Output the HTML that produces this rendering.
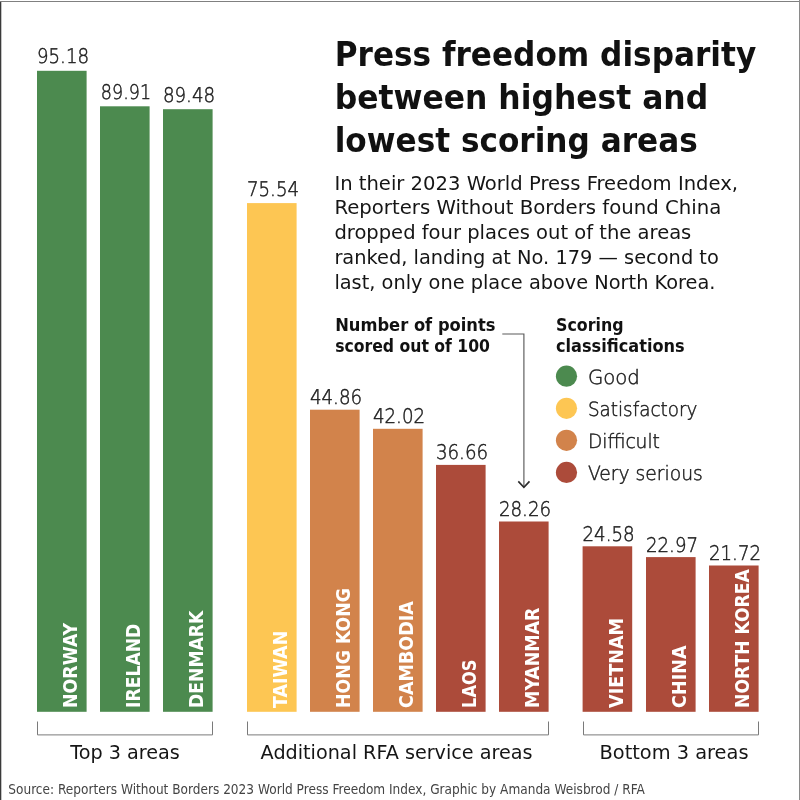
<!DOCTYPE html>
<html lang="en"><head><meta charset="utf-8"><title>Press freedom disparity between highest and lowest scoring areas</title>
<style>
html,body{margin:0;padding:0;background:#fff;}
body{width:800px;height:800px;overflow:hidden;position:relative;}
svg{position:absolute;left:0;top:0;display:block}
text{font-family:"DejaVu Sans","Liberation Sans",sans-serif;fill:#151515}
.b{font-family:"DejaVu Sans Condensed","DejaVu Sans","Liberation Sans",sans-serif;font-weight:bold}
.t{fill:#111}
.v{fill:#1c1c1c;font-family:"DejaVu Sans Light","DejaVu Sans","Liberation Sans",sans-serif;stroke:#1c1c1c;stroke-width:0.47px;text-rendering:geometricPrecision}
.n{fill:#fff}
.src{fill:#444}
</style></head><body>
<svg width="800" height="800" viewBox="0 0 800 800">
<rect x="0" y="0" width="800" height="800" fill="#fff"/>

<rect x="0" y="2" width="1.3" height="798" fill="#3a3a3a"/>
<rect x="0" y="1" width="800" height="1" fill="#808080"/>
<rect x="799" y="0" width="1" height="800" fill="#8a8a8a"/>
<rect x="37" y="70.8" width="49.6" height="641.0" fill="#4c8a4f"/>
<rect x="100" y="106.3" width="49.6" height="605.5" fill="#4c8a4f"/>
<rect x="163" y="109.2" width="49.6" height="602.6" fill="#4c8a4f"/>
<rect x="247" y="203.1" width="49.6" height="508.7" fill="#fdc653"/>
<rect x="310" y="409.7" width="49.6" height="302.1" fill="#d2834b"/>
<rect x="373" y="428.8" width="49.6" height="283.0" fill="#d2834b"/>
<rect x="436" y="464.9" width="49.6" height="246.9" fill="#ac4b3a"/>
<rect x="499" y="521.5" width="49.6" height="190.3" fill="#ac4b3a"/>
<rect x="582.6" y="546.3" width="49.6" height="165.5" fill="#ac4b3a"/>
<rect x="646" y="557.1" width="49.6" height="154.7" fill="#ac4b3a"/>
<rect x="709" y="565.5" width="49.6" height="146.3" fill="#ac4b3a"/>
<text class="v" x="63.0" y="63.3" font-size="20.1" text-anchor="middle" textLength="52.2" lengthAdjust="spacingAndGlyphs">95.18</text>
<text class="v" x="126.0" y="98.9" font-size="20.1" text-anchor="middle" textLength="50.3" lengthAdjust="spacingAndGlyphs">89.91</text>
<text class="v" x="189.0" y="101.9" font-size="20.1" text-anchor="middle" textLength="52.2" lengthAdjust="spacingAndGlyphs">89.48</text>
<text class="v" x="273.0" y="196.1" font-size="20.1" text-anchor="middle" textLength="52.2" lengthAdjust="spacingAndGlyphs">75.54</text>
<text class="v" x="336.0" y="403.6" font-size="20.1" text-anchor="middle" textLength="52.2" lengthAdjust="spacingAndGlyphs">44.86</text>
<text class="v" x="399.0" y="422.8" font-size="20.1" text-anchor="middle" textLength="52.2" lengthAdjust="spacingAndGlyphs">42.02</text>
<text class="v" x="462.0" y="459.1" font-size="20.1" text-anchor="middle" textLength="52.2" lengthAdjust="spacingAndGlyphs">36.66</text>
<text class="v" x="525.0" y="515.9" font-size="20.1" text-anchor="middle" textLength="52.2" lengthAdjust="spacingAndGlyphs">28.26</text>
<text class="v" x="608.6" y="540.8" font-size="20.1" text-anchor="middle" textLength="52.2" lengthAdjust="spacingAndGlyphs">24.58</text>
<text class="v" x="672.0" y="551.7" font-size="20.1" text-anchor="middle" textLength="52.2" lengthAdjust="spacingAndGlyphs">22.97</text>
<text class="v" x="735.0" y="560.1" font-size="20.1" text-anchor="middle" textLength="52.2" lengthAdjust="spacingAndGlyphs">21.72</text>
<text class="b n" transform="translate(77.2 707.9) rotate(-90)" font-size="19.6" textLength="85" lengthAdjust="spacingAndGlyphs">NORWAY</text>
<text class="b n" transform="translate(140.2 707.9) rotate(-90)" font-size="19.6" textLength="84.3" lengthAdjust="spacingAndGlyphs">IRELAND</text>
<text class="b n" transform="translate(203.2 707.9) rotate(-90)" font-size="19.6" textLength="97.3" lengthAdjust="spacingAndGlyphs">DENMARK</text>
<text class="b n" transform="translate(287.2 707.9) rotate(-90)" font-size="19.6" textLength="77.2" lengthAdjust="spacingAndGlyphs">TAIWAN</text>
<text class="b n" transform="translate(350.2 707.9) rotate(-90)" font-size="19.6" textLength="119.8" lengthAdjust="spacingAndGlyphs">HONG KONG</text>
<text class="b n" transform="translate(413.2 707.9) rotate(-90)" font-size="19.6" textLength="106.8" lengthAdjust="spacingAndGlyphs">CAMBODIA</text>
<text class="b n" transform="translate(476.2 707.9) rotate(-90)" font-size="19.6" textLength="48.2" lengthAdjust="spacingAndGlyphs">LAOS</text>
<text class="b n" transform="translate(539.2 707.9) rotate(-90)" font-size="19.6" textLength="100.4" lengthAdjust="spacingAndGlyphs">MYANMAR</text>
<text class="b n" transform="translate(622.8000000000001 707.9) rotate(-90)" font-size="19.6" textLength="90" lengthAdjust="spacingAndGlyphs">VIETNAM</text>
<text class="b n" transform="translate(686.2 707.9) rotate(-90)" font-size="19.6" textLength="62.5" lengthAdjust="spacingAndGlyphs">CHINA</text>
<text class="b n" transform="translate(749.2 707.9) rotate(-90)" font-size="19.6" textLength="138.8" lengthAdjust="spacingAndGlyphs">NORTH KOREA</text>
<path d="M37.5 721.5V734.9H212.5V721.5" fill="none" stroke="#7a7a7a" stroke-width="1"/>
<path d="M247.5 721.5V734.9H548.5V721.5" fill="none" stroke="#7a7a7a" stroke-width="1"/>
<path d="M583.5 721.5V734.9H758.5V721.5" fill="none" stroke="#7a7a7a" stroke-width="1"/>
<text x="125" y="758.7" font-size="20" text-anchor="middle" textLength="109.6" lengthAdjust="spacingAndGlyphs">Top 3 areas</text>
<text x="396.6" y="758.7" font-size="20" text-anchor="middle" textLength="272" lengthAdjust="spacingAndGlyphs">Additional RFA service areas</text>
<text x="674" y="758.7" font-size="20" text-anchor="middle" textLength="149" lengthAdjust="spacingAndGlyphs">Bottom 3 areas</text>
<text class="b t" x="334.7" y="66.1" font-size="33.5" textLength="421.5" lengthAdjust="spacingAndGlyphs">Press freedom disparity</text>
<text class="b t" x="334.7" y="108.7" font-size="33.5" textLength="373.5" lengthAdjust="spacingAndGlyphs">between highest and</text>
<text class="b t" x="334.7" y="152" font-size="33.5" textLength="363" lengthAdjust="spacingAndGlyphs">lowest scoring areas</text>
<text x="334.4" y="190" font-size="20" textLength="403.6" lengthAdjust="spacingAndGlyphs">In their 2023 World Press Freedom Index,</text>
<text x="334.4" y="214.4" font-size="20" textLength="386.9" lengthAdjust="spacingAndGlyphs">Reporters Without Borders found China</text>
<text x="334.4" y="239" font-size="20" textLength="356.9" lengthAdjust="spacingAndGlyphs">dropped four places out of the areas</text>
<text x="334.4" y="263.7" font-size="20" textLength="384.4" lengthAdjust="spacingAndGlyphs">ranked, landing at No. 179 — second to</text>
<text x="334.4" y="288.6" font-size="20" textLength="381.1" lengthAdjust="spacingAndGlyphs">last, only one place above North Korea.</text>
<text class="b t" x="335.2" y="330.8" font-size="17" textLength="160.3" lengthAdjust="spacingAndGlyphs">Number of points</text>
<text class="b t" x="335.2" y="352.3" font-size="17" textLength="154.8" lengthAdjust="spacingAndGlyphs">scored out of 100</text>
<path d="M502.3 334H523.9V487" fill="none" stroke="#5a5a5a" stroke-width="1.15"/>
<path d="M518.3 481.4L523.9 487.3L529.5 481.4" fill="none" stroke="#2a2a2a" stroke-width="1.6"/>
<text class="b t" x="556" y="330.8" font-size="17" textLength="67.5" lengthAdjust="spacingAndGlyphs">Scoring</text>
<text class="b t" x="556" y="352.3" font-size="17" textLength="128.7" lengthAdjust="spacingAndGlyphs">classifications</text>
<circle cx="566.5" cy="376.2" r="10.6" fill="#4c8a4f"/>
<text class="v" x="587.9" y="383.5" font-size="19.6" textLength="52" lengthAdjust="spacingAndGlyphs">Good</text>
<circle cx="566.5" cy="408.3" r="10.6" fill="#fdc653"/>
<text class="v" x="587.9" y="415.6" font-size="19.6" textLength="109.5" lengthAdjust="spacingAndGlyphs">Satisfactory</text>
<circle cx="566.5" cy="440.3" r="10.6" fill="#d2834b"/>
<text class="v" x="587.9" y="447.6" font-size="19.6" textLength="72" lengthAdjust="spacingAndGlyphs">Difficult</text>
<circle cx="566.5" cy="472.4" r="10.6" fill="#ac4b3a"/>
<text class="v" x="587.9" y="479.7" font-size="19.6" textLength="115" lengthAdjust="spacingAndGlyphs">Very serious</text>
<text class="src" x="8.3" y="794" font-size="13.5" textLength="636.6" lengthAdjust="spacingAndGlyphs">Source: Reporters Without Borders 2023 World Press Freedom Index, Graphic by Amanda Weisbrod / RFA</text>
</svg></body></html>
